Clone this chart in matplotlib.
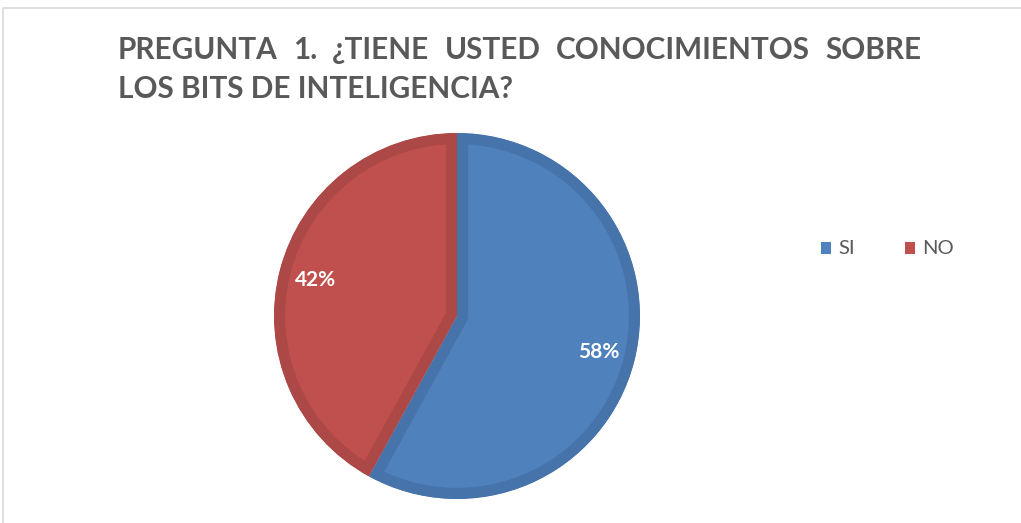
import matplotlib
matplotlib.use("Agg")
import matplotlib.pyplot as plt
from matplotlib.patches import Rectangle, Wedge

categories = ["SI", "NO"]
values = [58, 42]
colors = ["#4F81BD", "#C0504D"]
edge_colors = ["#4673AA", "#AC4845"]
title_line1 = ["PREGUNTA", "1.", "¿TIENE", "USTED", "CONOCIMIENTOS", "SOBRE"]
title_line2 = "LOS BITS DE INTELIGENCIA?"

W, H = 1021, 523
fig = plt.figure(figsize=(W / 100, H / 100), dpi=100)
fig.patch.set_facecolor("white")

# chart frame
fig.patches.append(Rectangle((3 / W, -0.1), 1.2, (H - 8) / H + 0.1, transform=fig.transFigure,
                             fill=False, edgecolor="#D9D9D9", linewidth=1.2))

# pie axes
cx, cy, r = 457, H - 316, 183
ax = fig.add_axes([(cx - r) / W, (cy - r) / H, 2 * r / W, 2 * r / H])
wedges, texts, autotexts = ax.pie(values, colors=colors, startangle=90, counterclock=False,
                                  autopct="%1.0f%%", pctdistance=0.8, radius=1,
                                  wedgeprops=dict(linewidth=0),
                                  textprops=dict(color="white", fontsize=15, fontweight="bold",
                                                 family="Lato"))
for w, ec in zip(wedges, edge_colors):
    clip = Wedge(w.center, w.r, w.theta1, w.theta2, transform=ax.transData)
    w.set_edgecolor(ec)
    w.set_linewidth(16)
    w.set_clip_on(True)
    w.set_clip_path(clip)
ax.set_xlim(-1, 1)
ax.set_ylim(-1, 1)
ax.set_aspect("equal")
ax.axis("off")

# title, justified first line
renderer = fig.canvas.get_renderer()
tcol = "#595959"
tfam = "Lato"
fs = 21
t2 = fig.text(118 / W, 1 - 98 / H, title_line2, fontsize=fs, fontweight="bold", family=tfam,
              color=tcol, va="baseline", ha="left")
bb = t2.get_window_extent(renderer)
fs = fs * (513 - 118) / bb.width
t2.set_fontsize(fs)
words = []
total = 0
for wd in title_line1:
    t = fig.text(0, 1 - 59 / H, wd, fontsize=fs, fontweight="bold", family=tfam,
                 color=tcol, va="baseline", ha="left")
    wdt = t.get_window_extent(renderer).width
    words.append((t, wdt))
    total += wdt
gap = ((921 - 118) - total) / (len(words) - 1)
x = 118
for t, wdt in words:
    t.set_x(x / W)
    x += wdt + gap

# legend
ly = 1 - 248 / H
for i, (cat, col) in enumerate(zip(categories, colors)):
    x0 = [821, 905][i]
    fig.patches.append(Rectangle((x0 / W, ly - 6 / H), 10 / W, 12 / H, transform=fig.transFigure,
                                 facecolor=col, edgecolor="none"))
    fig.text((x0 + 17) / W, ly, cat, fontsize=14.5, family="Lato", color=tcol, va="center", ha="left")

fig.savefig("out.png", dpi=100, facecolor="white")
